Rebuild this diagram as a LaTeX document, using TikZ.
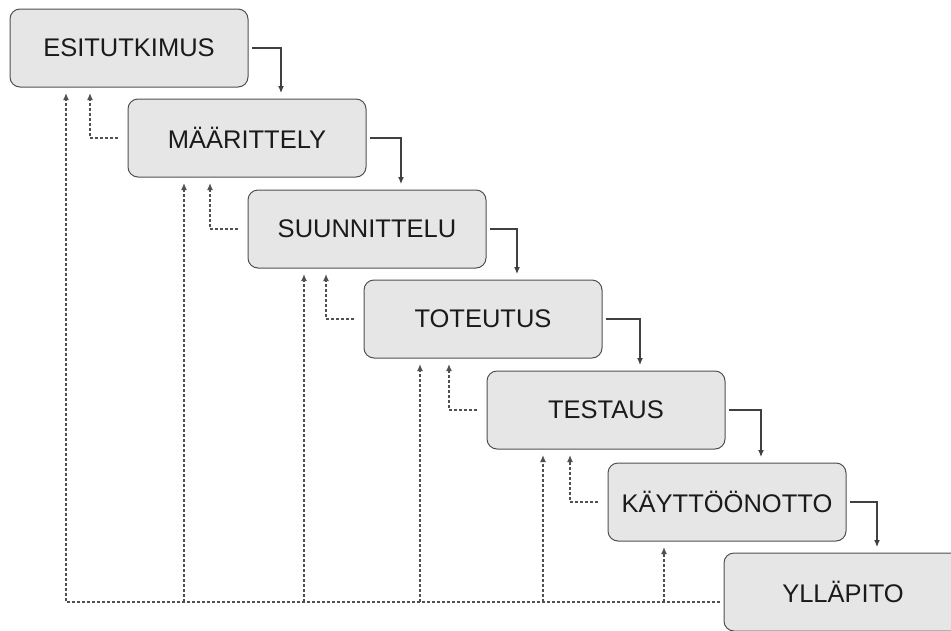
\documentclass[tikz,border=0pt]{standalone}
\usepackage{fontspec}
\setmainfont{Liberation Sans}
\usetikzlibrary{arrows.meta,calc}
\definecolor{boxfill}{HTML}{E6E6E6}
\definecolor{boxline}{HTML}{505050}
\definecolor{flowcol}{HTML}{404040}
\definecolor{fbcol}{HTML}{505050}
\definecolor{txtcol}{HTML}{1A1A1A}
\tikzset{
  phase/.style={draw=boxline, fill=boxfill, line width=1pt, rounded corners=10pt,
    minimum width=238pt, minimum height=78pt, inner sep=0pt, outer sep=0pt,
    font=\fontsize{25.5}{28}\selectfont, text=txtcol},
  flow/.style={draw=flowcol, line width=1.2pt, -{Latex[length=7pt,width=6pt]}},
  fb/.style={draw=fbcol, line width=1.3pt, dash pattern=on 3pt off 2pt, shorten >=5pt},
  fbtip/.style={draw=fbcol, fill=fbcol, line width=1.3pt, solid, -{Latex[length=7pt,width=6pt]}}
}
\begin{document}
\begin{tikzpicture}[x=1pt,y=-1pt]
\useasboundingbox (0,0) rectangle (951,630);
\node[phase] (b1) at (129,48)  {ESITUTKIMUS};
\node[phase] (b2) at (247,138) {MÄÄRITTELY};
\node[phase] (b3) at (367,229) {SUUNNITTELU};
\node[phase] (b4) at (483,319) {TOTEUTUS};
\node[phase] (b5) at (606,410) {TESTAUS};
\node[phase] (b6) at (727,502) {KÄYTTÖÖNOTTO};
\node[phase] (b7) at (843,592) {YLLÄPITO};
% forward flow
\draw[flow] ([xshift=4pt]b1.east) -| ([xshift=34pt,yshift=6pt]b2.north);
\draw[flow] ([xshift=4pt]b2.east) -| ([xshift=34pt,yshift=6pt]b3.north);
\draw[flow] ([xshift=4pt]b3.east) -| ([xshift=34pt,yshift=6pt]b4.north);
\draw[flow] ([xshift=4pt]b4.east) -| ([xshift=34pt,yshift=6pt]b5.north);
\draw[flow] ([xshift=4pt]b5.east) -| ([xshift=34pt,yshift=6pt]b6.north);
\draw[flow] ([xshift=4pt]b6.east) -| ([xshift=34pt,yshift=6pt]b7.north);
% arrow end points of feedback lines
\coordinate (s1) at ($(b2.west |- b1.south)+(-38pt,-6pt)$);
\coordinate (s2) at ($(b3.west |- b2.south)+(-38pt,-6pt)$);
\coordinate (s3) at ($(b4.west |- b3.south)+(-38pt,-6pt)$);
\coordinate (s4) at ($(b5.west |- b4.south)+(-38pt,-6pt)$);
\coordinate (s5) at ($(b6.west |- b5.south)+(-38pt,-6pt)$);
\coordinate (l1) at ($(b1.south west)+(56pt,-6pt)$);
\coordinate (l2) at ($(b2.south west)+(56pt,-6pt)$);
\coordinate (l3) at ($(b3.south west)+(56pt,-6pt)$);
\coordinate (l4) at ($(b4.south west)+(56pt,-6pt)$);
\coordinate (l5) at ($(b5.south west)+(56pt,-6pt)$);
\coordinate (l6) at ($(b6.south west)+(56pt,-6pt)$);
\coordinate (base) at ([xshift=-4pt,yshift=-10pt]b7.west);
% short feedback
\draw[fb] ([xshift=-10pt]b2.west) -| (s1);
\draw[fb] ([xshift=-10pt]b3.west) -| (s2);
\draw[fb] ([xshift=-10pt]b4.west) -| (s3);
\draw[fb] ([xshift=-10pt]b5.west) -| (s4);
\draw[fb] ([xshift=-10pt]b6.west) -| (s5);
% long feedback from maintenance
\draw[fb] (base) -| (l1);
\draw[fb] (l2 |- base) -- (l2);
\draw[fb] (l3 |- base) -- (l3);
\draw[fb] (l4 |- base) -- (l4);
\draw[fb] (l5 |- base) -- (l5);
\draw[fb] (l6 |- base) -- (l6);
% solid arrow tips
\foreach \e in {s1,s2,s3,s4,s5,l1,l2,l3,l4,l5,l6}
  \draw[fbtip] ([yshift=-6pt]\e) -- (\e);
\end{tikzpicture}
\end{document}
